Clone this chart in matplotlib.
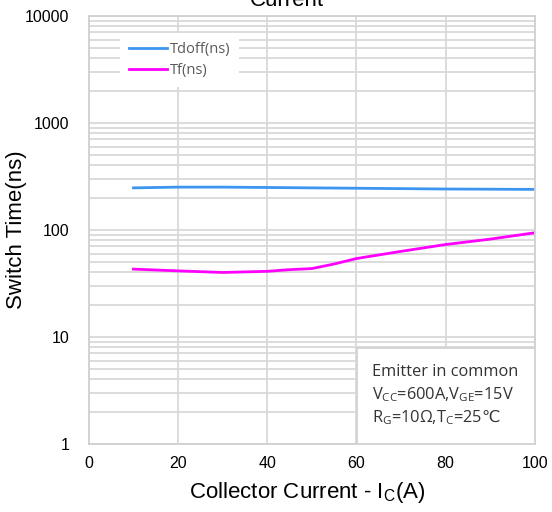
import numpy as np
import matplotlib
matplotlib.use("Agg")
import matplotlib.pyplot as plt
from matplotlib.patches import Rectangle
from matplotlib.ticker import NullFormatter, LogLocator

# Switching times vs collector current
ic = [10, 20, 30, 40, 45, 50, 55, 60, 70, 80, 90, 100]
tdoff = [247, 251, 251, 249, 248, 247, 246, 245, 243, 241, 240, 239]
tf = [43, 41.4, 40, 41, 42.5, 43.5, 48, 54, 63, 73, 82, 94]

x_ticks = [0, 20, 40, 60, 80, 100]
y_ticks = [1, 10, 100, 1000, 10000]

note_lines = ['Emitter in common',
              'V$_\\mathregular{CC}$=600A,V$_\\mathregular{GE}$=15V',
              'R$_\\mathregular{G}$=10\u03a9,T$_\\mathregular{C}$=25$\\mathrm{\u2103}$']

plt.rcParams['font.family'] = ['Liberation Sans', 'DejaVu Sans']
plt.rcParams['mathtext.fontset'] = 'custom'
plt.rcParams['mathtext.rm'] = 'Noto Sans CJK SC'

fig = plt.figure(figsize=(5.52, 5.12), dpi=100)
ax = fig.add_axes([0.161, 0.133, 0.808, 0.836])

ax.plot(ic, tdoff, color='#3d95f0', lw=2, label='Tdoff(ns)')
ax.plot(ic, tf, color='#ff00ff', lw=2, label='Tf(ns)')

ax.set_yscale('log')
ax.set_xlim(0, 100)
ax.set_ylim(1, 10000)
ax.set_xticks(x_ticks)
ax.set_yticks(y_ticks)
ax.set_yticklabels([str(v) for v in y_ticks])
ax.yaxis.set_minor_locator(LogLocator(base=10, subs=np.arange(2, 10)))
ax.yaxis.set_minor_formatter(NullFormatter())

ax.grid(True, which='major', color='#d9d9d9', lw=1.3)
ax.grid(True, which='minor', axis='y', color='#d9d9d9', lw=1.3)
ax.set_axisbelow(True)
for s in ax.spines.values():
    s.set_color('#d0d0d0')
    s.set_linewidth(1.3)
ax.tick_params(axis='y', which='both', length=0, labelsize=11.5,
               colors='black', pad=14)
ax.tick_params(axis='x', which='both', length=0, labelsize=11.5,
               colors='black', pad=9)

ax.set_xlabel('Collector Current - I$_\\mathregular{C}$(A)', fontsize=16)
ax.set_ylabel('Switch Time(ns)', fontsize=16)
ax.xaxis.set_label_coords(0.489, -0.1145)
ax.yaxis.set_label_coords(-0.1614, 0.5)
ax.xaxis.label.set_verticalalignment('center')
ax.yaxis.label.set_verticalalignment('center')

leg = ax.legend(loc='upper left', bbox_to_anchor=(0.0695, 0.960), frameon=True,
                prop={'family': ['Open Sans', 'DejaVu Sans'], 'size': 10.5},
                handlelength=2.6, handletextpad=0.2,
                labelspacing=0.45, borderaxespad=0, borderpad=0.6)
leg.get_frame().set_edgecolor('none')
leg.get_frame().set_facecolor('white')
leg.get_frame().set_alpha(1)
leg.get_frame().set_boxstyle('square', pad=0)
for t in leg.get_texts():
    t.set_color('#595959')

# condition box in the lower-right corner
ax.add_patch(Rectangle((0.601, 0.0), 0.399, 0.224, transform=ax.transAxes,
                       facecolor='white', edgecolor='#d0d0d0', lw=1.2, zorder=3))
for yy, line in zip([0.168, 0.116, 0.062], note_lines):
    ax.text(0.634, yy, line, transform=ax.transAxes, ha='left', va='center',
            fontsize=11.8, family=['Open Sans', 'DejaVu Sans'],
            color='#333333', zorder=4)

fig.text(0.52, 1.0, 'Current', ha='center', va='center', fontsize=16)

fig.savefig('out.png', dpi=100)
